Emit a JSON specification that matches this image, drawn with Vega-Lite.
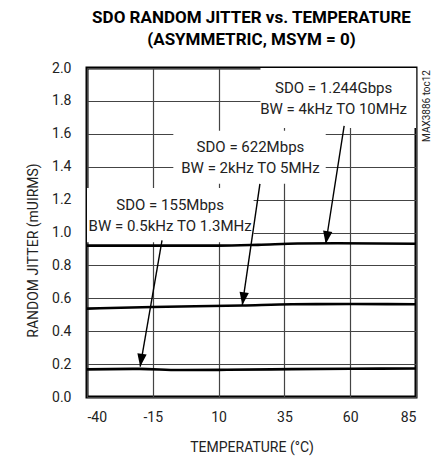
{
  "$schema": "https://vega.github.io/schema/vega-lite/v6.json",
  "width": 329,
  "height": 329,
  "autosize": "none",
  "padding": {"left": 87, "top": 68, "right": 20, "bottom": 63},
  "background": "white",
  "title": {
    "text": ["SDO RANDOM JITTER vs. TEMPERATURE", "(ASYMMETRIC, MSYM = 0)"],
    "font": "Roboto",
    "fontSize": 17,
    "fontWeight": "bold",
    "lineHeight": 22,
    "color": "black",
    "anchor": "middle",
    "offset": 12
  },
  "config": {
    "view": {"stroke": "black", "strokeWidth": 3},
    "font": "Roboto",
    "axis": {
      "domain": false,
      "ticks": false,
      "grid": true,
      "gridColor": "#444444",
      "gridWidth": 1.2,
      "gridOpacity": 1,
      "labelOverlap": false,
      "labelFont": "Roboto",
      "labelFontSize": 14,
      "labelColor": "#222222",
      "titleFont": "Roboto",
      "titleFontSize": 14,
      "titleFontWeight": "normal",
      "titleColor": "#222222"
    }
  },
  "datasets": {
    "curves": [
      {"series": "1.244Gbps", "temp": -40, "rj": 0.92},
      {"series": "1.244Gbps", "temp": -15, "rj": 0.92},
      {"series": "1.244Gbps", "temp": 10, "rj": 0.92},
      {"series": "1.244Gbps", "temp": 25, "rj": 0.925},
      {"series": "1.244Gbps", "temp": 40, "rj": 0.933},
      {"series": "1.244Gbps", "temp": 55, "rj": 0.935},
      {"series": "1.244Gbps", "temp": 85, "rj": 0.932},
      {"series": "622Mbps", "temp": -40, "rj": 0.537},
      {"series": "622Mbps", "temp": -15, "rj": 0.547},
      {"series": "622Mbps", "temp": 19, "rj": 0.556},
      {"series": "622Mbps", "temp": 38, "rj": 0.564},
      {"series": "622Mbps", "temp": 60, "rj": 0.565},
      {"series": "622Mbps", "temp": 85, "rj": 0.564},
      {"series": "155Mbps", "temp": -40, "rj": 0.168},
      {"series": "155Mbps", "temp": -20, "rj": 0.171},
      {"series": "155Mbps", "temp": -5, "rj": 0.164},
      {"series": "155Mbps", "temp": 10, "rj": 0.165},
      {"series": "155Mbps", "temp": 30, "rj": 0.168},
      {"series": "155Mbps", "temp": 60, "rj": 0.172},
      {"series": "155Mbps", "temp": 85, "rj": 0.173}
    ],
    "arrows": [
      {"series": "1.244Gbps", "t0": 57.7, "r0": 1.648, "t1": 50.7, "r1": 0.93},
      {"series": "622Mbps", "t0": 25.7, "r0": 1.295, "t1": 19.0, "r1": 0.558},
      {"series": "155Mbps", "t0": -11.5, "r0": 0.952, "t1": -19.8, "r1": 0.184}
    ],
    "boxes": [
      {"series": "1.244Gbps", "ta": 25.9, "tb": 85, "ra": 1.636, "rb": 2.0},
      {"series": "622Mbps", "ta": -7.2, "tb": 50.7, "ra": 1.297, "rb": 1.618},
      {"series": "155Mbps", "ta": -40, "tb": 23.3, "ra": 0.94, "rb": 1.27}
    ],
    "labels": [
      {"series": "1.244Gbps", "temp": 53.7, "rj": 1.881, "label": "SDO = 1.244Gbps\nBW = 4kHz TO 10MHz"},
      {"series": "622Mbps", "temp": 22.1, "rj": 1.520, "label": "SDO = 622Mbps\nBW = 2kHz TO 5MHz"},
      {"series": "155Mbps", "temp": -8.4, "rj": 1.167, "label": "SDO = 155Mbps\nBW = 0.5kHz TO 1.3MHz"}
    ],
    "note": [
      {"temp": 85, "rj": 2.0, "label": "MAX3886 toc12"}
    ]
  },
  "layer": [
    {
      "data": {"name": "boxes"},
      "mark": {"type": "rect", "fill": "white", "stroke": null},
      "encoding": {
        "x": {"field": "ta", "type": "quantitative", "scale": {"domain": [-40, 85], "nice": false, "zero": false}},
        "x2": {"field": "tb"},
        "y": {"field": "ra", "type": "quantitative", "scale": {"domain": [0, 2], "nice": false}},
        "y2": {"field": "rb"}
      }
    },
    {
      "data": {"name": "curves"},
      "mark": {"type": "line", "color": "black", "strokeWidth": 2.6, "interpolate": "monotone"},
      "encoding": {
        "x": {"field": "temp", "type": "quantitative",
              "axis": {"values": [-40, -15, 10, 35, 60, 85], "labelExpr": "datum.value < 0 ? '-' + abs(datum.value) : '' + datum.value", "title": "TEMPERATURE (°C)", "labelPadding": 13, "titlePadding": 16}},
        "y": {"field": "rj", "type": "quantitative",
              "axis": {"values": [0, 0.2, 0.4, 0.6, 0.8, 1.0, 1.2, 1.4, 1.6, 1.8, 2.0], "tickCount": 11, "format": ".1f", "title": "RANDOM JITTER (mUIRMS)", "labelPadding": 16, "titlePadding": 11, "titleY": 182}},
        "detail": {"field": "series"}
      }
    },
    {
      "data": {"name": "arrows"},
      "mark": {"type": "rule", "color": "black", "strokeWidth": 1.4},
      "encoding": {
        "x": {"field": "t0", "type": "quantitative"},
        "y": {"field": "r0", "type": "quantitative"},
        "x2": {"field": "t1"},
        "y2": {"field": "r1"}
      }
    },
    {
      "data": {"name": "arrows"},
      "mark": {"type": "point", "shape": "M0,0L-0.36,-1L0.36,-1Z", "filled": true, "color": "black", "opacity": 1, "size": 676, "strokeWidth": 0},
      "encoding": {
        "x": {"field": "t1", "type": "quantitative"},
        "y": {"field": "r1", "type": "quantitative"},
        "angle": {"field": "series", "type": "nominal", "scale": {"domain": ["1.244Gbps", "622Mbps", "155Mbps"], "range": [8.8, 8.2, 9.7]}, "legend": null}
      }
    },
    {
      "data": {"name": "labels"},
      "mark": {"type": "text", "font": "Roboto", "fontSize": 15, "lineHeight": 21, "lineBreak": "\n", "align": "center", "baseline": "middle", "color": "#222222"},
      "encoding": {
        "x": {"field": "temp", "type": "quantitative"},
        "y": {"field": "rj", "type": "quantitative"},
        "text": {"field": "label"}
      }
    },
    {
      "data": {"name": "note"},
      "mark": {"type": "text", "font": "Roboto", "fontSize": 10, "angle": 270, "align": "right", "baseline": "middle", "dx": -2, "dy": 11, "color": "#222222"},
      "encoding": {
        "x": {"field": "temp", "type": "quantitative"},
        "y": {"field": "rj", "type": "quantitative"},
        "text": {"field": "label"}
      }
    }
  ]
}
